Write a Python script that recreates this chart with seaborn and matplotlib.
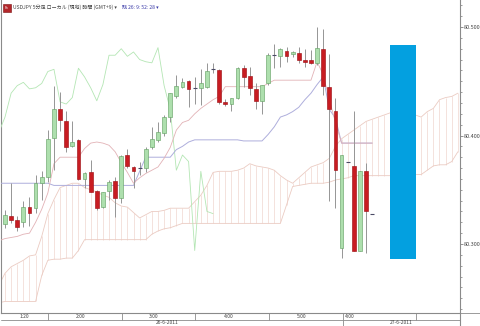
import numpy as np
import pandas as pd
import matplotlib
matplotlib.use("Agg")
import matplotlib.pyplot as plt
from matplotlib.patches import Rectangle
from matplotlib.ticker import MultipleLocator
import seaborn as sns

# ---------------- data ----------------
bar_index = list(range(61))
open_ = [80.318, 80.326, 80.322, 80.320, 80.334, 80.333, 80.356, 80.362, 80.398, 80.424,
         80.413, 80.390, 80.396, 80.360, 80.366, 80.349, 80.334, 80.349, 80.358, 80.342,
         80.382, 80.371, 80.370, 80.370, 80.389, 80.396, 80.402, 80.417, 80.436, 80.445,
         80.450, 80.444, 80.444, 80.445, 80.461, 80.460, 80.431, 80.429, 80.435, 80.462,
         80.455, 80.443, 80.432, 80.448, 80.474, 80.473, 80.478, 80.475, 80.476, 80.470,
         80.470, 80.467, 80.480, 80.445, 80.423, 80.296, 80.376, 80.372, 80.294, 80.367,
         80.328]
high = [80.331, 80.356, 80.326, 80.340, 80.343, 80.364, 80.367, 80.405, 80.446, 80.440,
        80.423, 80.413, 80.397, 80.366, 80.377, 80.350, 80.348, 80.359, 80.362, 80.382,
        80.388, 80.372, 80.376, 80.389, 80.408, 80.412, 80.419, 80.439, 80.456, 80.453,
        80.451, 80.454, 80.461, 80.467, 80.467, 80.461, 80.434, 80.435, 80.463, 80.465,
        80.463, 80.448, 80.447, 80.476, 80.484, 80.481, 80.482, 80.478, 80.482, 80.480,
        80.479, 80.500, 80.498, 80.475, 80.435, 80.382, 80.376, 80.423, 80.367, 80.375,
        80.328]
low = [80.315, 80.319, 80.312, 80.316, 80.317, 80.329, 80.341, 80.357, 80.368, 80.404,
       80.385, 80.389, 80.359, 80.352, 80.348, 80.331, 80.333, 80.341, 80.325, 80.338,
       80.370, 80.352, 80.364, 80.366, 80.388, 80.394, 80.400, 80.412, 80.435, 80.444,
       80.426, 80.429, 80.428, 80.444, 80.458, 80.429, 80.427, 80.423, 80.434, 80.445,
       80.437, 80.424, 80.420, 80.447, 80.462, 80.463, 80.468, 80.472, 80.467, 80.463,
       80.466, 80.465, 80.437, 80.340, 80.333, 80.287, 80.376, 80.294, 80.294, 80.292,
       80.328]
close = [80.327, 80.322, 80.316, 80.334, 80.329, 80.356, 80.362, 80.397, 80.424, 80.414,
         80.389, 80.394, 80.360, 80.365, 80.348, 80.333, 80.348, 80.357, 80.342, 80.381,
         80.372, 80.367, 80.370, 80.388, 80.397, 80.403, 80.417, 80.439, 80.446, 80.449,
         80.443, 80.444, 80.448, 80.459, 80.461, 80.431, 80.429, 80.435, 80.462, 80.454,
         80.444, 80.432, 80.447, 80.474, 80.474, 80.480, 80.473, 80.477, 80.470, 80.468,
         80.467, 80.481, 80.446, 80.424, 80.368, 80.382, 80.376, 80.294, 80.367, 80.330,
         80.328]

line_index = list(range(-1, 61))
tenkan = [80.303, 80.305, 80.306, 80.307, 80.309, 80.310, 80.320, 80.332, 80.347, 80.374,
          80.380, 80.380, 80.380, 80.380, 80.388, 80.393, 80.394, 80.393, 80.391, 80.385,
          80.375, 80.366, 80.356, 80.361, 80.365, 80.368, 80.371, 80.379, 80.389, 80.405,
          80.412, 80.414, 80.420, 80.425, 80.429, 80.433, 80.436, 80.445, 80.445, 80.445,
          80.445, 80.445, 80.445, 80.445, 80.448, 80.451, 80.451, 80.451, 80.451, 80.451,
          80.451, 80.451, 80.468, 80.456, 80.433, 80.412, 80.393, 80.393, 80.393, 80.393,
          80.393, 80.393]
kijun = [80.356, 80.356, 80.356, 80.356, 80.356, 80.356, 80.356, 80.356, 80.356, 80.354,
         80.354, 80.354, 80.354, 80.354, 80.354, 80.354, 80.354, 80.354, 80.354, 80.354,
         80.354, 80.354, 80.354, 80.367, 80.380, 80.380, 80.380, 80.380, 80.380, 80.387,
         80.390, 80.394, 80.396, 80.396, 80.396, 80.396, 80.396, 80.396, 80.396, 80.396,
         80.395, 80.395, 80.395, 80.395, 80.401, 80.408, 80.417, 80.419, 80.422, 80.426,
         80.433, 80.439, 80.447, 80.454, 80.424, 80.416, 80.393, 80.393, 80.393, 80.393,
         80.393, 80.393]

chikou_index = list(range(-1, 35))
chikou = [80.403, 80.417, 80.439, 80.446, 80.449, 80.443, 80.444, 80.448, 80.459, 80.461,
          80.431, 80.429, 80.435, 80.462, 80.454, 80.444, 80.432, 80.447, 80.474, 80.474,
          80.480, 80.473, 80.477, 80.470, 80.468, 80.467, 80.481, 80.446, 80.424, 80.368,
          80.382, 80.376, 80.294, 80.367, 80.330, 80.328]

cloud_index = list(range(-1, 75))
span_upper = [80.262, 80.273, 80.279, 80.282, 80.285, 80.289, 80.290, 80.307, 80.328, 80.341,
              80.352, 80.354, 80.356, 80.356, 80.352, 80.350, 80.348, 80.345, 80.343, 80.338,
              80.335, 80.334, 80.329, 80.324, 80.327, 80.330, 80.330, 80.331, 80.333, 80.333,
              80.333, 80.333, 80.339, 80.345, 80.354, 80.366, 80.367, 80.367, 80.367, 80.368,
              80.370, 80.374, 80.372, 80.371, 80.370, 80.368, 80.363, 80.359, 80.356, 80.361,
              80.366, 80.371, 80.373, 80.375, 80.379, 80.390, 80.397, 80.401, 80.405, 80.409,
              80.413, 80.415, 80.417, 80.419, 80.421, 80.421, 80.420, 80.419, 80.419, 80.417,
              80.422, 80.425, 80.433, 80.435, 80.436, 80.439]
span_lower = [80.246, 80.247, 80.247, 80.247, 80.247, 80.247, 80.247, 80.271, 80.285, 80.286,
              80.286, 80.287, 80.287, 80.294, 80.304, 80.304, 80.304, 80.304, 80.304, 80.304,
              80.304, 80.304, 80.304, 80.304, 80.304, 80.309, 80.312, 80.314, 80.315, 80.317,
              80.319, 80.319, 80.319, 80.319, 80.319, 80.319, 80.319, 80.319, 80.319, 80.319,
              80.319, 80.319, 80.319, 80.319, 80.319, 80.319, 80.319, 80.336, 80.353, 80.354,
              80.355, 80.356, 80.356, 80.356, 80.357, 80.359, 80.360, 80.361, 80.363, 80.363,
              80.363, 80.363, 80.363, 80.363, 80.363, 80.364, 80.364, 80.364, 80.364, 80.364,
              80.368, 80.372, 80.373, 80.373, 80.376, 80.385]

highlight_bars = (62.95, 67.15)
highlight_prices = (80.286, 80.483)

price_ticks = [80.300, 80.400, 80.500]
time_labels = ["1:20", "2:00", "3:00", "4:00", "5:00", "4:00"]
time_label_pos = [3.1, 12.3, 24.3, 36.6, 48.5, 55.5]
hour_separators = [7.03, 19.1, 31.05, 43.1, 55.2, 67.2]
date_labels = ["26-6-2011", "27-6-2011"]
date_label_pos = [26.5, 64.8]
date_separator = 55.2

title_main = "USDJPY 5分足 ローカル (現地) 時間 (GMT+9) ▾"
title_timer = "残 26: 9: 52: 28 ▾"

# ---------------- style ----------------
sns.set_style("white")
plt.rcParams["font.family"] = ["Noto Sans CJK JP", "DejaVu Sans"]

W, H = 480, 326
fig = plt.figure(figsize=(W / 100, H / 100), dpi=100)
ax_left, ax_right = 1 / W, 460 / W
ax_bottom = 13 / H
ax = fig.add_axes([ax_left, ax_bottom, ax_right - ax_left, 1 - ax_bottom])

xlim = (-0.654, 74.35)
ylim = (80.2364, 80.5249)

df = pd.DataFrame({"i": bar_index, "open": open_, "high": high, "low": low, "close": close})
up = df[df.close > df.open]
down = df[df.close < df.open]
flat = df[df.close == df.open]

# cloud (vertical hatch lines between spans)
cl = pd.DataFrame({"i": cloud_index, "a": span_upper, "b": span_lower})
ax.vlines(cl.i, cl[["a", "b"]].min(axis=1), cl[["a", "b"]].max(axis=1),
          color="#f3ddd7", lw=0.6, zorder=1)
sns.lineplot(x=cloud_index, y=span_upper, ax=ax, color="#ebcbc2", lw=0.6,
             estimator=None, zorder=2)
sns.lineplot(x=cloud_index, y=span_lower, ax=ax, color="#ebcbc2", lw=0.6,
             estimator=None, zorder=2)

# ichimoku lines
sns.lineplot(x=chikou_index, y=chikou, ax=ax, color="#b4e6b4", lw=0.6,
             estimator=None, zorder=3)
sns.lineplot(x=line_index, y=kijun, ax=ax, color="#aeaedc", lw=0.7,
             estimator=None, zorder=3)
sns.lineplot(x=line_index, y=tenkan, ax=ax, color="#e2b2b6", lw=0.6,
             estimator=None, zorder=3)

# candles
bw = 0.62
ax.vlines(df.i, df.low, df.high, color="#959595", lw=0.7, zorder=4)
ax.bar(up.i, up.close - up.open, bottom=up.open, width=bw, color="#addfad",
       edgecolor="#6aa66a", lw=0.45, zorder=5)
ax.bar(down.i, down.open - down.close, bottom=down.close, width=bw, color="#c81c22",
       edgecolor="#a01419", lw=0.45, zorder=5)
ax.hlines(flat.close, flat.i - bw / 2, flat.i + bw / 2, color="#4a4a66", lw=0.8, zorder=5)

# highlight rectangle
ax.add_patch(Rectangle((highlight_bars[0], highlight_prices[0]),
                       highlight_bars[1] - highlight_bars[0],
                       highlight_prices[1] - highlight_prices[0],
                       facecolor="#03a0e0", edgecolor="none", zorder=10))

ax.set_xlim(*xlim)
ax.set_ylim(*ylim)
ax.set_xlabel("")
ax.set_ylabel("")
ax.set_xticks([])
ax.yaxis.tick_right()
ax.set_yticks(price_ticks)
ax.set_yticklabels([f"{v:.3f}" for v in price_ticks])
ax.yaxis.set_minor_locator(MultipleLocator(0.01))
ax.tick_params(axis="y", which="major", labelsize=4, length=2, width=0.5,
               color="#666666", labelcolor="#444444", pad=1)
ax.tick_params(axis="y", which="minor", length=1.5, width=0.5, color="#777777")
for side, sp in ax.spines.items():
    sp.set_color("#8a8a8a")
    sp.set_linewidth(0.8)
ax.spines["top"].set_visible(False)
ax.grid(False)

# time / date rows
tax = fig.add_axes([ax_left, 0, ax_right - ax_left, ax_bottom])
tax.set_xlim(*xlim)
tax.set_ylim(0, 13)
tax.axis("off")
tax.axhline(6.5, color="#8a8a8a", lw=0.6)
tax.axhline(12.8, color="#8a8a8a", lw=0.6)
tax.vlines(hour_separators, 6.5, 13, color="#8a8a8a", lw=0.6)
tax.vlines([date_separator], 0, 6.5, color="#8a8a8a", lw=0.6)
for k, (lab, pos) in enumerate(zip(time_labels, time_label_pos)):
    tax.text(pos, 9.6, lab, fontsize=3.6, color="#444444",
             ha="left" if k == len(time_labels) - 1 else "center", va="center")
for lab, pos in zip(date_labels, date_label_pos):
    tax.text(pos, 3.2, lab, fontsize=3.6, color="#444444", ha="center", va="center")

# right-bottom frame pieces
fig.add_artist(plt.Line2D([460 / W, 1], [ax_bottom, ax_bottom], transform=fig.transFigure,
                          color="#8a8a8a", lw=0.6))
fig.add_artist(plt.Line2D([460 / W, 460 / W], [0, ax_bottom], transform=fig.transFigure,
                          color="#8a8a8a", lw=0.8))

# header
fig.add_artist(Rectangle((3 / W, 1 - 12 / H), 8 / W, 8 / H, transform=fig.transFigure,
                         facecolor="#b3262a", edgecolor="#7a1010", lw=0.4))
fig.text(4.2 / W, 1 - 8 / H, "Fx", fontsize=2.6, color="white", va="center", ha="left")
fig.text(13 / W, 1 - 7.5 / H, title_main, fontsize=3.6, color="#444444", va="center")
fig.text(122 / W, 1 - 7.5 / H, title_timer, fontsize=3.6, color="#3a3aa8", va="center")

fig.savefig("out.png", dpi=100)
